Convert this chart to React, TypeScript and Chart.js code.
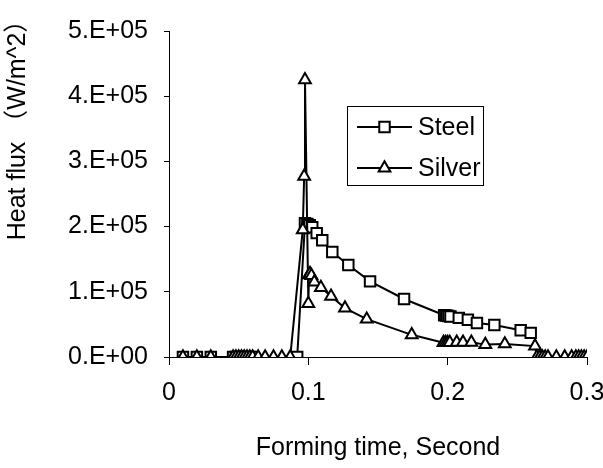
import { useEffect, useRef } from 'react';
import { Chart, registerables } from 'chart.js';

Chart.register(...registerables);

const seriesNames = ['Steel', 'Silver'];

const steelTime = [
  0.01, 0.02, 0.03, 0.046, 0.048, 0.05, 0.052, 0.054, 0.056, 0.058, 0.06, 0.092,
  0.0976, 0.0993, 0.101, 0.1028, 0.106, 0.11, 0.1172, 0.1287, 0.1443, 0.1687,
  0.1975, 0.199, 0.2005, 0.202, 0.208, 0.2145, 0.221, 0.2335, 0.2524, 0.2596,
];
const steelFlux = [
  0, 0, 0, 0, 0, 0, 0, 0, 0, 0, 0, 0,
  205000, 204000, 202000, 199000, 190000, 179000, 161000, 141000, 116000, 89000,
  64000, 63500, 63000, 62000, 60000, 57000, 52000, 49000, 41000, 37000,
];

const silverTime = [
  0.01, 0.02, 0.03, 0.046, 0.048, 0.05, 0.052, 0.054, 0.056, 0.058, 0.06,
  0.064, 0.069, 0.075, 0.081, 0.087,
  0.096, 0.097, 0.0976, 0.1, 0.1005, 0.1012, 0.1022, 0.1043, 0.109, 0.1163, 0.1263,
  0.1419, 0.1742, 0.197, 0.1985, 0.2, 0.2015, 0.2065, 0.211, 0.217, 0.227, 0.241, 0.2627,
  0.264, 0.266, 0.268, 0.27, 0.272, 0.278, 0.284, 0.289, 0.292, 0.294, 0.296, 0.298, 0.3,
];
const silverFlux = [
  0, 0, 0, 0, 0, 0, 0, 0, 0, 0, 0,
  0, 0, 0, 0, 0,
  195000, 277000, 425000, 82000, 126000, 128000, 125000, 115000, 106500, 93000, 75000,
  58000, 34000, 22000, 22000, 22000, 22000, 22500, 22500, 22500, 19000, 20000, 16700,
  0, 0, 0, 0, 0, 0, 0, 0, 0, 0, 0, 0, 0,
];

const xTickLabels = ['0', '0.1', '0.2', '0.3'];
const yTickLabels = ['0.E+00', '1.E+05', '2.E+05', '3.E+05', '4.E+05', '5.E+05'];
const xTitle = 'Forming time, Second';
const yTitle = 'Heat flux （W/m^2）';

const FONT = "'Liberation Sans', Arial, 'Noto Sans CJK SC', sans-serif";

function drawMarker(ctx: CanvasRenderingContext2D, style: string, x: number, y: number, r: number) {
  ctx.beginPath();
  if (style === 'rect') {
    const s = Math.SQRT1_2 * r;
    ctx.rect(x - s, y - s, 2 * s, 2 * s);
  } else {
    ctx.moveTo(x, y - r);
    ctx.lineTo(x + Math.sin((2 * Math.PI) / 3) * r, y + r / 2);
    ctx.lineTo(x - Math.sin((2 * Math.PI) / 3) * r, y + r / 2);
    ctx.closePath();
  }
  ctx.fillStyle = '#fff';
  ctx.fill();
  ctx.stroke();
}

const legendPlugin = {
  id: 'boxLegend',
  afterDraw(chart: any) {
    const ctx: CanvasRenderingContext2D = chart.ctx;
    const x0 = 347.5, y0 = 106.5, w = 136, h = 79;
    ctx.save();
    ctx.fillStyle = '#fff';
    ctx.fillRect(x0, y0, w, h);
    ctx.strokeStyle = '#000';
    ctx.lineWidth = 1;
    ctx.strokeRect(x0, y0, w, h);
    const rows = [127, 168];
    chart.data.datasets.forEach((ds: any, i: number) => {
      const y = rows[i];
      ctx.strokeStyle = '#000';
      ctx.lineWidth = 2;
      ctx.beginPath();
      ctx.moveTo(357, y);
      ctx.lineTo(412, y);
      ctx.stroke();
      ctx.lineWidth = ds.pointBorderWidth;
      drawMarker(ctx, ds.pointStyle, 384.5, y, ds.pointRadius);
      ctx.fillStyle = '#000';
      ctx.font = `25px ${FONT}`;
      ctx.textAlign = 'left';
      ctx.textBaseline = 'middle';
      ctx.fillText(ds.label, 418, y + 1);
    });
    ctx.restore();
  },
};

const yTitlePlugin = {
  id: 'yTitleCustom',
  afterDraw(chart: any) {
    const ctx: CanvasRenderingContext2D = chart.ctx;
    ctx.save();
    ctx.font = `25px ${FONT}`;
    ctx.fillStyle = '#000';
    ctx.textAlign = 'center';
    ctx.textBaseline = 'middle';
    ctx.translate(18, 124);
    ctx.rotate(-Math.PI / 2);
    ctx.fillText(yTitle, 0, 0);
    ctx.restore();
  },
};

export default function App() {
  const ref = useRef<HTMLCanvasElement | null>(null);

  useEffect(() => {
    if (!ref.current) return;
    const toPts = (xs: number[], ys: number[]) => xs.map((x, i) => ({ x, y: ys[i] }));
    const chart = new Chart(ref.current, {
      type: 'line',
      data: {
        datasets: [
          {
            label: seriesNames[0],
            data: toPts(steelTime, steelFlux),
            borderColor: '#000',
            borderWidth: 2,
            pointStyle: 'rect',
            pointRadius: 7.4,
            pointBorderWidth: 2,
            pointBackgroundColor: '#fff',
            pointBorderColor: '#000',
            tension: 0,
            order: 2,
          },
          {
            label: seriesNames[1],
            data: toPts(silverTime, silverFlux),
            borderColor: '#000',
            borderWidth: 2,
            pointStyle: 'triangle',
            pointRadius: 6.8,
            pointBorderWidth: 2,
            pointBackgroundColor: '#fff',
            pointBorderColor: '#000',
            tension: 0,
            order: 1,
          },
        ],
      },
      options: {
        responsive: false,
        animation: false,
        events: [],
        layout: { padding: { top: 19, right: 16, left: 0, bottom: 0 } },
        plugins: { legend: { display: false }, tooltip: { enabled: false } },
        scales: {
          x: {
            type: 'linear',
            min: 0,
            max: 0.3,
            afterFit: (s: any) => {
              s.height = 111;
              s.paddingLeft = 0;
              s.paddingRight = 0;
            },
            border: { display: true, color: '#000', width: 1 },
            grid: { drawOnChartArea: false, drawTicks: true, tickLength: 8, color: '#000', lineWidth: 1 },
            ticks: {
              stepSize: 0.1,
              padding: 13,
              color: '#000',
              maxRotation: 0,
              font: { family: FONT, size: 25 },
              callback: (_v: any, i: number) => xTickLabels[i],
            },
            title: {
              display: true,
              text: xTitle,
              color: '#000',
              font: { family: FONT, size: 25 },
              padding: { top: 0, bottom: 5 },
            },
          },
          y: {
            type: 'linear',
            min: 0,
            max: 500000,
            afterFit: (s: any) => {
              s.width = 169;
            },
            border: { display: true, color: '#000', width: 1 },
            grid: { drawOnChartArea: false, drawTicks: true, tickLength: 5, color: '#000', lineWidth: 1 },
            ticks: {
              stepSize: 100000,
              padding: 16,
              color: '#000',
              font: { family: FONT, size: 25 },
              callback: (_v: any, i: number) => yTickLabels[i],
            },
          },
        },
      },
      plugins: [legendPlugin, yTitlePlugin],
    });
    return () => chart.destroy();
  }, []);

  return (
    <div style={{ position: 'absolute', left: 0, top: 0, width: 603, height: 468, background: '#fff' }}>
      <canvas ref={ref} width={603} height={468} style={{ display: 'block' }} />
    </div>
  );
}
